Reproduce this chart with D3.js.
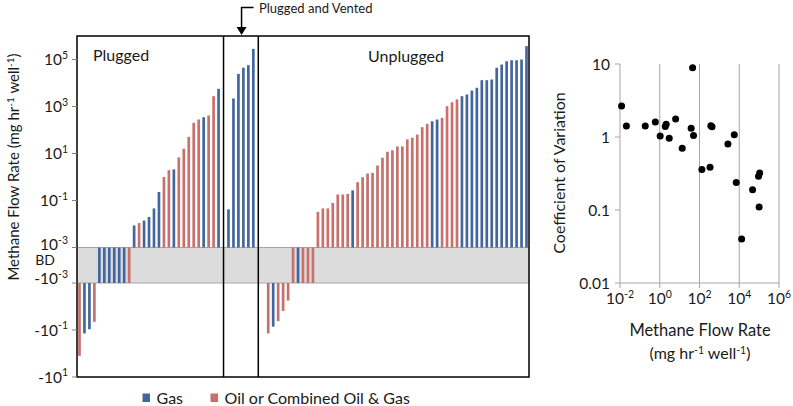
<!DOCTYPE html>
<html>
<head>
<meta charset="utf-8">
<script src="https://cdn.jsdelivr.net/npm/d3@7"></script>
<style>
  body { margin: 0; background: #fff; }
  svg text { font-family: Lato, "Open Sans", sans-serif; fill: #1a1a1a; }
</style>
</head>
<body>
<svg id="chart" width="793" height="406"></svg>
<script>
(function(d3) {
  "use strict";

  // flow rates in mg/hr/well; 0 = below detection (BD), negative = uptake
  var pluggedValues = [-1.26, -0.14, -0.093, -0.045,
    0, 0, 0, 0, 0, 0, 0,
    0.0087, 0.011, 0.014, 0.02, 0.046, 0.23, 1.0, 1.95, 2.1, 6.8, 16, 51, 204, 280, 350, 414, 2750, 5650];
  var pluggedTypes = ["O", "G", "G", "O",
    "G", "G", "G", "G", "G", "G", "O",
    "G", "O", "G", "G", "G", "G", "O", "O", "G", "O", "O", "O", "O", "O", "G", "O", "O", "G"];

  var ventedValues = [0.042, 2200, 24500, 44700, 57500, 283000];
  var ventedTypes = ["G", "G", "G", "G", "G", "G"];

  var unpluggedValues = [-0.14, -0.072, -0.042, -0.0155, -0.0056,
    0, 0, 0, 0, 0,
    0.033, 0.046, 0.046, 0.079, 0.18, 0.18, 0.19, 0.27, 0.6, 0.98, 1.4, 1.5, 3.1, 6.6, 11.8, 13.8,
    20, 20, 40, 47, 64, 132, 183, 235, 280, 330, 1030, 1520, 2000, 2750, 3240, 4780, 6270,
    13200, 13200, 14100, 44500, 61000, 84500, 93000, 93000, 100000, 370000];
  var unpluggedTypes = ["O", "G", "O", "O", "O",
    "O", "G", "O", "O", "O",
    "O", "O", "O", "O", "O", "O", "O", "G", "O", "O", "O", "O", "O", "O", "O", "O",
    "O", "O", "O", "O", "O", "O", "O", "G", "G", "O", "O", "O", "O", "G", "G", "G", "G",
    "G", "G", "G", "G", "G", "G", "G", "G", "G", "G"];

  var posTicks = [1e5, 1e3, 1e1, 1e-1, 1e-3];
  var negTicks = [1e-3, 1e-1, 1e1];

  // coefficient of variation vs flow rate
  var cvFlow = [0.012, 0.021, 0.186, 0.6, 1.05, 1.9, 2.1, 3.0, 6.3, 13.5, 38, 45, 50, 132, 339, 372, 427,
    2690, 5620, 7080, 13200, 46800, 93300, 107000, 100000];
  var cvValues = [2.66, 1.42, 1.42, 1.61, 1.03, 1.39, 1.5, 0.96, 1.77, 0.70, 1.32, 8.9, 1.05, 0.36, 0.385,
    1.43, 1.38, 0.8, 1.07, 0.238, 0.04, 0.189, 0.29, 0.32, 0.11];
  var cvTicks = [10, 1, 0.1, 0.01];
  var cvTickLabels = ["10", "1", "0.1", "0.01"];
  var flowTicks = [-2, 0, 2, 4, 6];

  var typeNames = { G: "Gas", O: "Oil or Combined Oil & Gas" };
  var colors = { G: "#44669f", O: "#c8706b" };

  var svg = d3.select("#chart");

  // ---------- left chart ----------
  var box = { left: 77, top: 36, right: 529, bottom: 377 };
  var groups = [
    { start: 0, values: pluggedValues, types: pluggedTypes },
    { start: 30, values: ventedValues, types: ventedTypes },
    { start: 38, values: unpluggedValues, types: unpluggedTypes }
  ];
  var dividers = [29, 36];
  var nSlots = 91;

  var bars = [];
  groups.forEach(function(g) {
    g.values.forEach(function(v, i) {
      bars.push({ slot: g.start + i, value: v, type: g.types[i] });
    });
  });

  var x = d3.scaleBand()
      .domain(d3.range(nSlots))
      .range([box.left, box.right])
      .paddingInner(0.46)
      .paddingOuter(0.23);

  var yPos = d3.scaleLog().domain([1e-3, 1e6]).range([247.5, box.top]);
  var yNeg = d3.scaleLog().domain([1e-3, 1e1]).range([283, box.bottom]);
  var bdTop = yPos(1e-3), bdBottom = yNeg(1e-3);

  var left = svg.append("g").attr("class", "flow-chart");

  left.append("rect")
      .attr("x", box.left)
      .attr("y", bdTop)
      .attr("width", box.right - box.left)
      .attr("height", bdBottom - bdTop)
      .style("fill", "#dcdcdc");

  left.selectAll(".bd-line")
      .data([bdTop, bdBottom])
    .enter().append("line")
      .attr("x1", box.left)
      .attr("x2", box.right)
      .attr("y1", function(d) { return d; })
      .attr("y2", function(d) { return d; })
      .style("stroke", "#a6a6a6")
      .style("stroke-width", 1);

  left.selectAll(".bar")
      .data(bars)
    .enter().append("rect")
      .attr("class", "bar")
      .attr("x", function(d) { return x(d.slot); })
      .attr("width", x.bandwidth())
      .attr("y", function(d) {
        if (d.value > 0) return yPos(d.value);
        if (d.value === 0) return bdTop;
        return bdBottom;
      })
      .attr("height", function(d) {
        if (d.value > 0) return bdTop - yPos(d.value);
        if (d.value === 0) return bdBottom - bdTop;
        return yNeg(-d.value) - bdBottom;
      })
      .style("fill", function(d) { return colors[d.type]; });

  left.selectAll(".divider")
      .data(dividers)
    .enter().append("line")
      .attr("x1", function(d) { return x(d) + x.bandwidth() / 2; })
      .attr("x2", function(d) { return x(d) + x.bandwidth() / 2; })
      .attr("y1", box.top)
      .attr("y2", box.bottom)
      .style("stroke", "#000")
      .style("stroke-width", 1.5);

  left.append("rect")
      .attr("x", box.left)
      .attr("y", box.top)
      .attr("width", box.right - box.left)
      .attr("height", box.bottom - box.top)
      .style("fill", "none")
      .style("stroke", "#000")
      .style("stroke-width", 1.5);

  // y ticks; the labels next to the BD band are nudged apart like the original
  var ticks = posTicks.map(function(t) {
    return { y: yPos(t), ly: t === 1e-3 ? yPos(t) - 3 : yPos(t), sign: "", exp: Math.round(Math.log10(t)) };
  }).concat(negTicks.map(function(t) {
    var yy = yNeg(t);
    return { y: yy, ly: t === 1e-3 ? yy - 4.5 : yy, sign: "-", exp: Math.round(Math.log10(t)) };
  }));

  left.selectAll(".tick")
      .data(ticks)
    .enter().append("line")
      .attr("x1", box.left - 5)
      .attr("x2", box.left)
      .attr("y1", function(d) { return d.y; })
      .attr("y2", function(d) { return d.y; })
      .style("stroke", "#808080");

  var tl = left.selectAll(".tick-label")
      .data(ticks)
    .enter().append("text")
      .attr("x", 68)
      .attr("y", function(d) { return d.ly + 5.5; })
      .attr("text-anchor", "end")
      .style("font-size", "15.5px");
  tl.append("tspan").text(function(d) { return d.sign + "10"; });
  tl.append("tspan")
      .attr("dy", -6.5)
      .style("font-size", "10.5px")
      .text(function(d) { return d.exp; });

  left.append("text")
      .attr("x", 45)
      .attr("y", 265)
      .attr("text-anchor", "middle")
      .style("font-size", "14px")
      .text("BD");

  var yTitle = left.append("text")
      .attr("transform", "translate(19,167) rotate(-90)")
      .attr("text-anchor", "middle")
      .style("font-size", "15px");
  yTitle.append("tspan").text("Methane Flow Rate (mg hr");
  yTitle.append("tspan").attr("dy", -5).style("font-size", "10px").text("-1");
  yTitle.append("tspan").attr("dy", 5).text(" well");
  yTitle.append("tspan").attr("dy", -5).style("font-size", "10px").text("-1");
  yTitle.append("tspan").attr("dy", 5).text(")");

  left.append("text")
      .attr("x", 93)
      .attr("y", 61)
      .style("font-size", "16px")
      .text("Plugged");

  left.append("text")
      .attr("x", 368)
      .attr("y", 62)
      .style("font-size", "16px")
      .text("Unplugged");

  // plugged and vented call-out
  var ax = x(33) - 0.5;
  left.append("path")
      .attr("d", "M" + (ax + 12) + ",7.5H" + ax + "V29")
      .style("fill", "none")
      .style("stroke", "#000")
      .style("stroke-width", 1.5);
  left.append("path")
      .attr("d", "M" + (ax - 5) + ",27L" + (ax + 5) + ",27L" + ax + ",35Z")
      .style("fill", "#000");
  left.append("text")
      .attr("x", 259)
      .attr("y", 13)
      .style("font-size", "13px")
      .text("Plugged and Vented");

  // legend
  var legend = left.selectAll(".legend")
      .data(["G", "O"])
    .enter().append("g")
      .attr("transform", function(d, i) { return "translate(" + [142.5, 210.5][i] + ",393.5)"; });
  legend.append("rect")
      .attr("width", 7.5)
      .attr("height", 8.5)
      .style("fill", function(d) { return colors[d]; });
  legend.append("text")
      .attr("x", 14)
      .attr("y", 10.5)
      .style("font-size", "16px")
      .text(function(d) { return typeNames[d]; });

  // ---------- right chart ----------
  var sx = d3.scaleLog().domain([1e-2, 1e6]).range([620, 779]);
  var sy = d3.scaleLog().domain([0.01, 10]).range([283, 64]);

  var right = svg.append("g").attr("class", "cv-chart");

  right.selectAll(".grid")
      .data(flowTicks.slice(1))
    .enter().append("line")
      .attr("x1", function(d) { return sx(Math.pow(10, d)); })
      .attr("x2", function(d) { return sx(Math.pow(10, d)); })
      .attr("y1", sy(10))
      .attr("y2", sy(0.01))
      .style("stroke", "#a6a6a6");

  right.append("line")
      .attr("x1", sx(1e-2)).attr("x2", sx(1e-2))
      .attr("y1", sy(10)).attr("y2", sy(0.01))
      .style("stroke", "#a6a6a6");
  right.append("line")
      .attr("x1", sx(1e-2)).attr("x2", sx(1e6))
      .attr("y1", sy(0.01)).attr("y2", sy(0.01))
      .style("stroke", "#a6a6a6");

  right.selectAll(".ytick")
      .data(cvTicks)
    .enter().append("line")
      .attr("x1", sx(1e-2) - 5)
      .attr("x2", sx(1e-2))
      .attr("y1", function(d) { return sy(d); })
      .attr("y2", function(d) { return sy(d); })
      .style("stroke", "#a6a6a6");

  right.selectAll(".ylabel")
      .data(cvTicks)
    .enter().append("text")
      .attr("x", 610)
      .attr("y", function(d) { return sy(d) + 5.5; })
      .attr("text-anchor", "end")
      .style("font-size", "15.5px")
      .text(function(d, i) { return cvTickLabels[i]; });

  right.selectAll(".xtick")
      .data(flowTicks)
    .enter().append("line")
      .attr("x1", function(d) { return sx(Math.pow(10, d)); })
      .attr("x2", function(d) { return sx(Math.pow(10, d)); })
      .attr("y1", sy(0.01))
      .attr("y2", sy(0.01) + 5)
      .style("stroke", "#a6a6a6");

  var xl = right.selectAll(".xlabel")
      .data(flowTicks)
    .enter().append("text")
      .attr("x", function(d) { return sx(Math.pow(10, d)); })
      .attr("y", 304)
      .attr("text-anchor", "middle")
      .style("font-size", "15.5px");
  xl.append("tspan").text("10");
  xl.append("tspan")
      .attr("dy", -6)
      .style("font-size", "10.5px")
      .text(function(d) { return d; });

  right.selectAll(".dot")
      .data(cvFlow)
    .enter().append("circle")
      .attr("cx", function(d) { return sx(d); })
      .attr("cy", function(d, i) { return sy(cvValues[i]); })
      .attr("r", 3.5)
      .style("fill", "#000");

  right.append("text")
      .attr("transform", "translate(565,173) rotate(-90)")
      .attr("text-anchor", "middle")
      .style("font-size", "16px")
      .text("Coefficient of Variation");

  right.append("text")
      .attr("x", 700)
      .attr("y", 336)
      .attr("text-anchor", "middle")
      .style("font-size", "16.5px")
      .text("Methane Flow Rate");

  var xTitle = right.append("text")
      .attr("x", 700)
      .attr("y", 359)
      .attr("text-anchor", "middle")
      .style("font-size", "16px");
  xTitle.append("tspan").text("(mg hr");
  xTitle.append("tspan").attr("dy", -5).style("font-size", "10.5px").text("-1");
  xTitle.append("tspan").attr("dy", 5).text(" well");
  xTitle.append("tspan").attr("dy", -5).style("font-size", "10.5px").text("-1");
  xTitle.append("tspan").attr("dy", 5).text(")");

}(d3));
</script>
</body>
</html>
